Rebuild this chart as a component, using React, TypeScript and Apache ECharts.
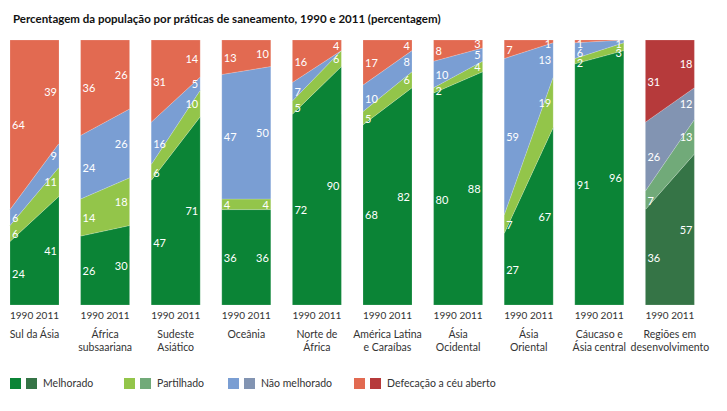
import React, { useEffect, useRef } from "react";
import * as echarts from "echarts";

const title = "Percentagem da população por práticas de saneamento, 1990 e 2011 (percentagem)";
const years = ["1990", "2011"];
const regions = [
  "Sul da Ásia",
  "África\nsubsaariana",
  "Sudeste\nAsiático",
  "Oceânia",
  "Norte de\nÁfrica",
  "América Latina\ne Caraíbas",
  "Ásia\nOcidental",
  "Ásia\nOriental",
  "Cáucaso e\nÁsia central",
  "Regiões em\ndesenvolvimento",
];
const layerNames = ["Melhorado", "Partilhado", "Não melhorado", "Defecação a céu aberto"];
const melhorado1990 = [24, 26, 47, 36, 72, 68, 80, 27, 91, 36];
const melhorado2011 = [41, 30, 71, 36, 90, 82, 88, 67, 96, 57];
const partilhado1990 = [6, 14, 6, 4, 5, 5, 2, 7, 2, 7];
const partilhado2011 = [11, 18, 10, 4, 6, 6, 4, 19, 3, 13];
const naoMelhorado1990 = [6, 24, 16, 47, 7, 10, 10, 59, 6, 26];
const naoMelhorado2011 = [9, 26, 5, 50, 0, 8, 5, 13, 1, 12];
const defecacao1990 = [64, 36, 31, 13, 16, 17, 8, 7, 1, 31];
const defecacao2011 = [39, 26, 14, 10, 4, 4, 3, 1, 0, 18];

const v1990 = [melhorado1990, partilhado1990, naoMelhorado1990, defecacao1990];
const v2011 = [melhorado2011, partilhado2011, naoMelhorado2011, defecacao2011];

const colors = ["#0b8436", "#93c54a", "#7a9ed3", "#e26a51"];
const devColors = ["#357446", "#71aa79", "#8294b2", "#b63a3b"];

const BW = 49 / 70.6;
const FONT = "Lato";
const GAP = 9.5;

function bases(vals: number[][], k: number, i: number) {
  let b = 0;
  for (let j = 0; j < k; j++) b += vals[j][i];
  return b;
}

export default function App() {
  const ref = useRef<HTMLDivElement>(null);
  useEffect(() => {
    const chart = echarts.init(ref.current!, null, { renderer: "svg" });
    const layerSeries = layerNames.map((name, k) => ({
      type: "custom",
      name,
      clip: false,
      data: regions.map((_, i) => [i]),
      renderItem: (params: any, api: any) => {
        const i = api.value(0);
        const b0 = bases(v1990, k, i), b1 = bases(v2011, k, i);
        const a = v1990[k][i], c = v2011[k][i];
        const p1 = api.coord([i, b0]);
        const p2 = api.coord([i + BW, b1]);
        const p3 = api.coord([i + BW, b1 + c]);
        const p4 = api.coord([i, b0 + a]);
        const fill = i === 9 ? devColors[k] : colors[k];
        return {
          type: "polygon",
          shape: { points: [p1, p2, p3, p4] },
          style: { fill, stroke: "rgba(255,255,255,0.35)", lineWidth: 0.5 },
        };
      },
    }));
    const labelSeries = {
      type: "custom",
      clip: false,
      silent: true,
      data: regions.map((_, i) => [i]),
      renderItem: (params: any, api: any) => {
        const i = api.value(0);
        const children: any[] = [];
        [v1990, v2011].forEach((vals, side) => {
          const xv = side === 0 ? i : i + BW;
          let prev = api.coord([xv, 100])[1] + 3 - GAP;
          for (let k = layerNames.length - 1; k >= 0; k--) {
            const v = vals[k][i];
            if (v <= 0) continue;
            const b = bases(vals, k, i);
            const m = api.coord([xv, b + v / 2]);
            const y = Math.max(m[1], prev + GAP);
            prev = y;
            children.push({
              type: "text",
              x: side === 0 ? m[0] + 2 : m[0] - 2,
              y,
              style: {
                text: String(v),
                fill: "#fff",
                font: `11px ${FONT}`,
                lineHeight: 9,
                align: side === 0 ? "left" : "right",
                verticalAlign: "middle",
              },
            });
          }
        });
        return { type: "group", children };
      },
    };
    const axisSeries = {
      type: "custom",
      clip: false,
      silent: true,
      data: regions.map((_, i) => [i]),
      renderItem: (params: any, api: any) => {
        const i = api.value(0);
        const l = api.coord([i, 0]);
        const r = api.coord([i + BW, 0]);
        const mid = (l[0] + r[0]) / 2;
        return {
          type: "group",
          children: [
            { type: "text", x: l[0], y: l[1] + 10, style: { text: years[0], fill: "#333", font: `10px ${FONT}`, align: "left", verticalAlign: "middle" } },
            { type: "text", x: r[0], y: l[1] + 10, style: { text: years[1], fill: "#333", font: `10px ${FONT}`, align: "right", verticalAlign: "middle" } },
            { type: "text", x: mid, y: l[1] + 22, style: { text: regions[i], fill: "#333", font: `10.5px ${FONT}`, align: "center", verticalAlign: "top", lineHeight: 13 } },
          ],
        };
      },
    };
    const legendX = [10, 124, 228, 354];
    const legendGraphics: any[] = [];
    layerNames.forEach((n, k) => {
      const x = legendX[k];
      legendGraphics.push({ type: "rect", left: x, top: 378, shape: { width: 11, height: 11 }, style: { fill: colors[k] } });
      legendGraphics.push({ type: "rect", left: x + 16, top: 378, shape: { width: 11, height: 11 }, style: { fill: devColors[k] } });
      legendGraphics.push({ type: "text", left: x + 33, top: 377, style: { text: n, fill: "#333", font: `10.5px ${FONT}` } });
    });
    chart.setOption({
      animation: false,
      title: {
        text: title,
        left: 8,
        top: 7,
        textStyle: { fontFamily: FONT, fontWeight: "bold", fontSize: 11.5, color: "#111" },
      },
      grid: { left: 10, right: 11, top: 40, bottom: 106 },
      xAxis: { type: "value", min: 0, max: 10, show: false },
      yAxis: { type: "value", min: 0, max: 100, show: false },
      graphic: legendGraphics,
      series: [...layerSeries, labelSeries, axisSeries],
    });
    return () => chart.dispose();
  }, []);
  return <div ref={ref} style={{ width: 727, height: 411, position: "absolute", left: 0, top: 0 }} />;
}
